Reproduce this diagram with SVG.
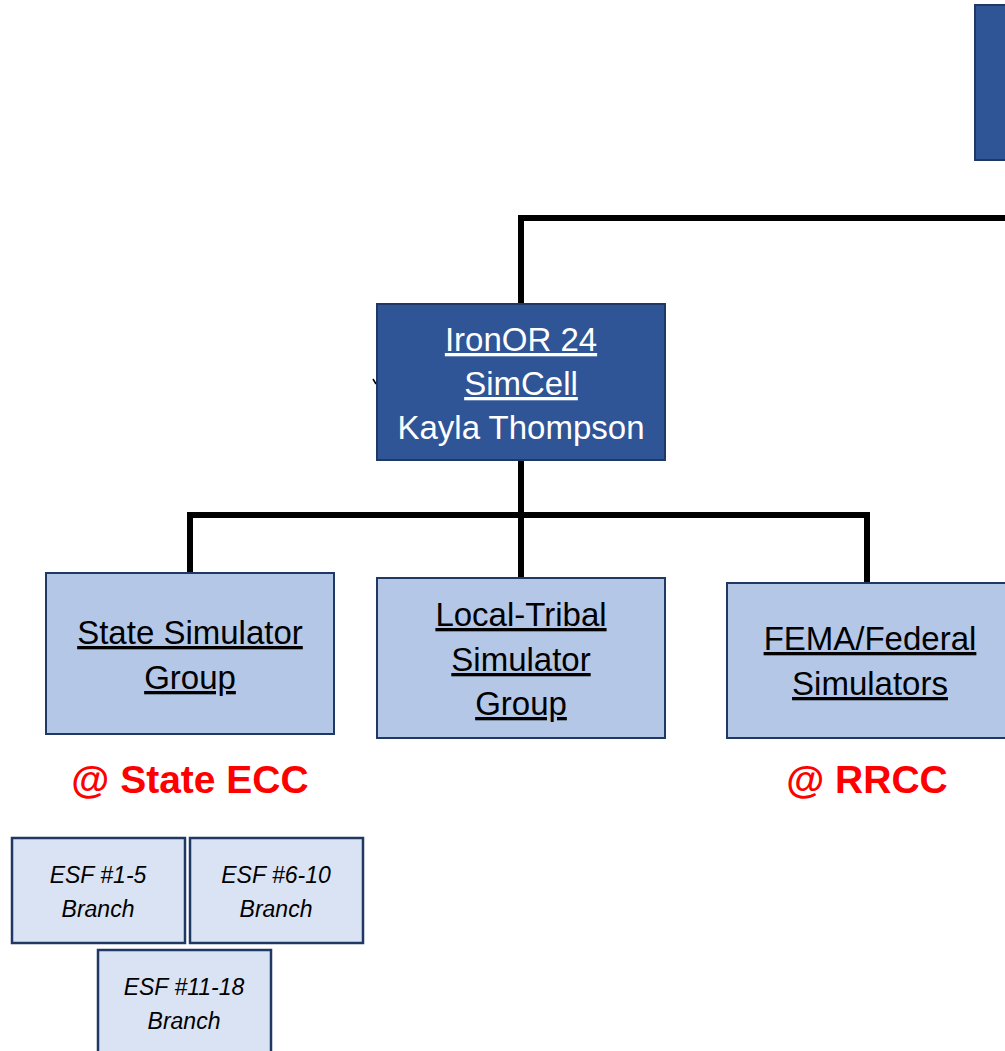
<svg xmlns="http://www.w3.org/2000/svg" width="1005" height="1051" viewBox="0 0 1005 1051">
<style>
.dark{fill:#2F5597;stroke:#1F3864;stroke-width:2}
.mid{fill:#B4C7E7;stroke:#1F3864;stroke-width:2}
.light{fill:#DAE3F3;stroke:#1F3864;stroke-width:2.5}
.t{font-family:"Liberation Sans",Arial,sans-serif;font-size:33px;text-anchor:middle}
.w{fill:#FFFFFF}
.k{fill:#000000}
.u{text-decoration:underline}
.red{font-family:"Liberation Sans",Arial,sans-serif;font-size:39px;font-weight:bold;fill:#FF0000;text-anchor:middle}
.esf{font-family:"Liberation Sans",Arial,sans-serif;font-size:23px;font-style:italic;fill:#000000;text-anchor:middle}
.c{fill:none;stroke:#000000;stroke-width:6}
</style>
<rect width="1005" height="1051" fill="#FFFFFF"/>
<g id="connectors">
<path class="c" d="M1005 218 H521 V304"/>
<path class="c" d="M521 460 V578"/>
<path class="c" d="M190 573 V515 H867 V582"/>
<path d="M373 379 L376 384" stroke="#000" stroke-width="1.5"/>
</g>
<g id="top-node">
<rect class="dark" x="975" y="5" width="40" height="155"/>
</g>
<g id="simcell">
<rect class="dark" x="377" y="304" width="288" height="156"/>
<text class="t w u" x="521" y="351">IronOR 24</text>
<text class="t w u" x="521" y="395">SimCell</text>
<text class="t w" x="521" y="439">Kayla Thompson</text>
</g>
<g id="state-sim">
<rect class="mid" x="46" y="573" width="288" height="161"/>
<text class="t k u" x="190" y="644">State Simulator</text>
<text class="t k u" x="190" y="689">Group</text>
</g>
<g id="local-tribal">
<rect class="mid" x="377" y="578" width="288" height="160"/>
<text class="t k u" x="521" y="626">Local-Tribal</text>
<text class="t k u" x="521" y="671">Simulator</text>
<text class="t k u" x="521" y="715">Group</text>
</g>
<g id="fema">
<rect class="mid" x="727" y="583" width="290" height="155"/>
<text class="t k u" x="870" y="650">FEMA/Federal</text>
<text class="t k u" x="870" y="695">Simulators</text>
</g>
<g id="label-state-ecc">
<text class="red" x="190" y="793">@ State ECC</text>
</g>
<g id="label-rrcc">
<text class="red" x="867" y="793">@ RRCC</text>
</g>
<g id="esf1-5">
<rect class="light" x="12" y="838" width="173" height="105"/>
<text class="esf" x="98" y="883">ESF #1-5</text>
<text class="esf" x="98" y="917">Branch</text>
</g>
<g id="esf6-10">
<rect class="light" x="190" y="838" width="173" height="105"/>
<text class="esf" x="276" y="883">ESF #6-10</text>
<text class="esf" x="276" y="917">Branch</text>
</g>
<g id="esf11-18">
<rect class="light" x="98" y="950" width="173" height="110"/>
<text class="esf" x="184" y="995">ESF #11-18</text>
<text class="esf" x="184" y="1029">Branch</text>
</g>
</svg>
